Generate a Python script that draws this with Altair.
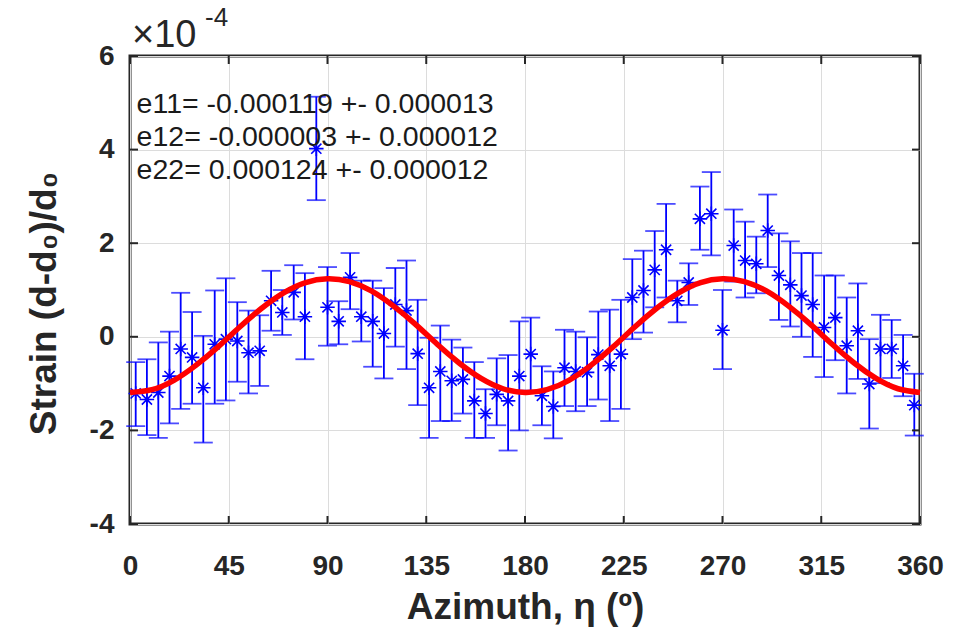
import altair as alt
import pandas as pd

# ---- data (strain in units of 1e-4) ----
azimuth = [2.6, 7.7, 12.9, 18.0, 23.1, 28.3, 33.4, 38.6, 43.7, 48.9,
           54.0, 59.1, 64.3, 69.4, 74.6, 79.7, 84.9, 90.0, 95.1, 100.3,
           105.4, 110.6, 115.7, 120.9, 126.0, 131.1, 136.3, 141.4, 146.6, 151.7,
           156.9, 162.0, 167.1, 172.3, 177.4, 182.6, 187.7, 192.9, 198.0, 203.1,
           208.3, 213.4, 218.6, 223.7, 228.9, 234.0, 239.1, 244.3, 249.4, 254.6,
           259.7, 264.9, 270.0, 275.1, 280.3, 285.4, 290.6, 295.7, 300.9, 306.0,
           311.1, 316.3, 321.4, 326.6, 331.7, 336.9, 342.0, 347.1, 352.3, 357.4]
strain = [-1.21, -1.34, -1.19, -0.84, -0.26, -0.44, -1.09, -0.16, -0.05, -0.09,
          -0.34, -0.30, 0.77, 0.52, 0.95, 0.43, 4.02, 0.63, 0.33, 1.27,
          0.43, 0.33, 0.07, 0.69, 0.56, -0.36, -1.09, -0.74, -0.94, -0.91,
          -1.37, -1.64, -1.23, -1.37, -0.84, -0.37, -1.26, -1.49, -0.66, -0.74,
          -0.76, -0.38, -0.62, -0.37, 0.84, 0.99, 1.43, 1.86, 0.77, 1.16,
          2.52, 2.63, 0.14, 1.95, 1.63, 1.56, 2.27, 1.31, 1.11, 0.88,
          0.69, 0.20, 0.41, -0.19, 0.13, -1.01, -0.26, -0.26, -0.62, -1.46]
upper = [-0.54, -0.48, -0.12, 0.11, 0.94, 0.53, 0.02, 0.99, 1.25, 0.74,
         0.56, 0.46, 1.41, 1.00, 1.53, 1.36, 5.13, 1.49, 0.76, 1.79,
         1.20, 1.20, 1.04, 1.47, 1.63, 0.79, -0.02, 0.24, -0.06, -0.23,
         -0.54, -1.12, -0.46, -0.39, 0.33, 0.41, -0.63, -0.74, 0.15, 0.11,
         -0.01, 0.54, 0.58, 0.79, 1.66, 1.84, 2.26, 2.84, 1.20, 1.57,
         3.21, 3.52, 1.00, 2.72, 2.46, 2.14, 3.04, 2.21, 2.04, 1.79,
         1.79, 1.31, 1.31, 0.84, 1.14, -0.05, 0.47, 0.36, 0.04, -0.79]
lower = [-1.91, -2.10, -2.16, -1.85, -1.54, -1.43, -2.26, -1.43, -1.36, -0.96,
         -1.21, -1.05, 0.13, 0.04, 0.37, -0.48, 2.92, -0.19, -0.16, 0.59,
         -0.10, -0.64, -0.89, -0.21, -0.69, -1.46, -2.16, -1.80, -1.80, -1.64,
         -2.16, -2.16, -1.89, -2.43, -2.00, -1.15, -1.89, -2.17, -1.48, -1.59,
         -1.48, -1.34, -1.80, -1.54, -0.05, 0.09, 0.63, 0.84, 0.31, 0.68,
         1.86, 1.74, -0.69, 1.18, 0.84, 0.93, 1.49, 0.36, 0.22, 0.00,
         -0.43, -0.86, -0.50, -1.21, -0.90, -1.96, -0.99, -0.88, -1.27, -2.11]

# fitted curve sampled every 10 degrees
fit_azimuth = [0, 10, 20, 30, 40, 50, 60, 70, 80, 90, 100, 110, 120, 130, 140, 150, 160, 170, 180,
               190, 200, 210, 220, 230, 240, 250, 260, 270, 280, 290, 300, 310, 320, 330, 340, 350, 360]
fit_strain = [-1.19, -1.13, -0.93, -0.61, -0.22, 0.21, 0.61, 0.94, 1.16, 1.24, 1.18, 0.98, 0.66, 0.27,
              -0.16, -0.56, -0.89, -1.11, -1.19,
              -1.13, -0.93, -0.61, -0.22, 0.21, 0.61, 0.94, 1.16, 1.24, 1.18, 0.98, 0.66, 0.27,
              -0.16, -0.56, -0.89, -1.11, -1.19]

fit_lines = ["e11= -0.000119 +- 0.000013",
             "e12= -0.000003 +- 0.000012",
             "e22= 0.000124 +- 0.000012"]
fit_line_y = [4.97, 4.26, 3.56]

x_ticks = [0, 45, 90, 135, 180, 225, 270, 315, 360]
y_ticks = [-4, -2, 0, 2, 4, 6]

# ---- tables ----
pts = pd.DataFrame({"az": azimuth, "s": strain, "hi": upper, "lo": lower})
fit = pd.DataFrame({"az": fit_azimuth, "s": fit_strain})
ann = pd.DataFrame({"t": fit_lines, "y": fit_line_y, "x": [3.0] * 3})

XMIN, XMAX, YMIN, YMAX = 0, 360, -4, 6
W, H = 790, 468
tlx = 8 * (XMAX - XMIN) / W
tly = 8 * (YMAX - YMIN) / H
yt = pd.DataFrame({"y": y_ticks, "x0": [XMIN] * 6, "x1": [XMIN + tlx] * 6,
                   "x2": [XMAX - tlx] * 6, "x3": [XMAX] * 6})
xt = pd.DataFrame({"x": x_ticks, "y0": [YMIN] * 9, "y1": [YMIN + tly] * 9,
                   "y2": [YMAX - tly] * 9, "y3": [YMAX] * 9})

BLUE = "#0000ff"
DARK = "#262626"
FONT = "Liberation Sans"

xs = alt.Scale(domain=[XMIN, XMAX], nice=False, zero=False)
ys = alt.Scale(domain=[YMIN, YMAX], nice=False, zero=False)

x_axis = alt.Axis(values=x_ticks, title="Azimuth, η (º)", grid=True, ticks=False, domain=False,
                  labelFont=FONT, labelFontSize=28, labelFontWeight="bold", labelColor=DARK,
                  labelPadding=28, labelFlush=False, labelBound=False, labelOverlap=False,
                  labelExpr="'' + datum.value",
                  titleFont=FONT, titleFontSize=37, titleFontWeight="bold",
                  titleColor=DARK, titleY=83, titleBaseline="middle")
y_axis = alt.Axis(values=y_ticks, title="Strain (d-d₀)/d₀", grid=True, ticks=False, domain=False,
                  labelFont=FONT, labelFontSize=28, labelFontWeight="bold", labelColor=DARK,
                  labelPadding=16, labelFlush=False, labelBound=False, labelOverlap=False,
                  labelExpr="'' + datum.value",
                  titleFont=FONT, titleFontSize=37, titleFontWeight="bold",
                  titleColor=DARK, titleX=-86, titleY=H / 2 + 13, titleBaseline="middle",
                  titleAlign="center", titleAngle=-90)

base = alt.Chart(pts)

bars = base.mark_rule(color=BLUE, strokeWidth=1.8).encode(
    x=alt.X("az:Q", scale=xs, axis=x_axis),
    y=alt.Y("lo:Q", scale=ys, axis=y_axis),
    y2="hi:Q")
cap_hi = base.mark_tick(color=BLUE, orient="horizontal", size=19, thickness=1.8).encode(
    x=alt.X("az:Q", scale=xs), y=alt.Y("hi:Q", scale=ys))
cap_lo = base.mark_tick(color=BLUE, orient="horizontal", size=19, thickness=1.8).encode(
    x=alt.X("az:Q", scale=xs), y=alt.Y("lo:Q", scale=ys))
star_path = "M -1 0 L 1 0 M 0 -1 L 0 1 M -0.7 -0.7 L 0.7 0.7 M -0.7 0.7 L 0.7 -0.7"
stars = base.mark_point(shape=star_path, size=210, filled=False, stroke=BLUE,
                        strokeWidth=1.6, opacity=1).encode(
    x=alt.X("az:Q", scale=xs), y=alt.Y("s:Q", scale=ys))

curve = alt.Chart(fit).mark_line(color="#ff0000", strokeWidth=5.5, interpolate="natural").encode(
    x=alt.X("az:Q", scale=xs), y=alt.Y("s:Q", scale=ys))

text = alt.Chart(ann).mark_text(align="left", baseline="middle", font=FONT, fontSize=28.5,
                                color="#1a1a1a").encode(
    x=alt.X("x:Q", scale=xs), y=alt.Y("y:Q", scale=ys), text="t:N")

ytl = alt.Chart(yt).mark_rule(color=DARK, strokeWidth=2).encode(
    x=alt.X("x0:Q", scale=xs), x2="x1:Q", y=alt.Y("y:Q", scale=ys))
ytr = alt.Chart(yt).mark_rule(color=DARK, strokeWidth=2).encode(
    x=alt.X("x2:Q", scale=xs), x2="x3:Q", y=alt.Y("y:Q", scale=ys))
xtb = alt.Chart(xt).mark_rule(color=DARK, strokeWidth=2).encode(
    y=alt.Y("y0:Q", scale=ys), y2="y1:Q", x=alt.X("x:Q", scale=xs))
xtt = alt.Chart(xt).mark_rule(color=DARK, strokeWidth=2).encode(
    y=alt.Y("y2:Q", scale=ys), y2="y3:Q", x=alt.X("x:Q", scale=xs))

mult = alt.Chart(pd.DataFrame({"t": ["×10"]})).mark_text(
    align="left", baseline="middle", font=FONT, fontSize=38, color=DARK).encode(
    x=alt.value(2), y=alt.value(-20), text="t:N")
expo = alt.Chart(pd.DataFrame({"t": ["-4"]})).mark_text(
    align="left", baseline="middle", font=FONT, fontSize=26, color=DARK).encode(
    x=alt.value(75), y=alt.value(-38), text="t:N")

chart = alt.layer(bars, cap_hi, cap_lo, stars, curve, text, ytl, ytr, xtb, xtt, mult, expo).properties(
    width=W, height=H,
    autosize=alt.AutoSizeParams(type="none"),
    padding={"left": 130, "top": 56, "right": 41, "bottom": 118},
    background="white",
).configure_view(stroke=DARK, strokeWidth=3).configure_axis(gridColor="#dcdcdc", gridWidth=1)

chart.save("out.html", embed_options={"renderer": "svg", "actions": False})
